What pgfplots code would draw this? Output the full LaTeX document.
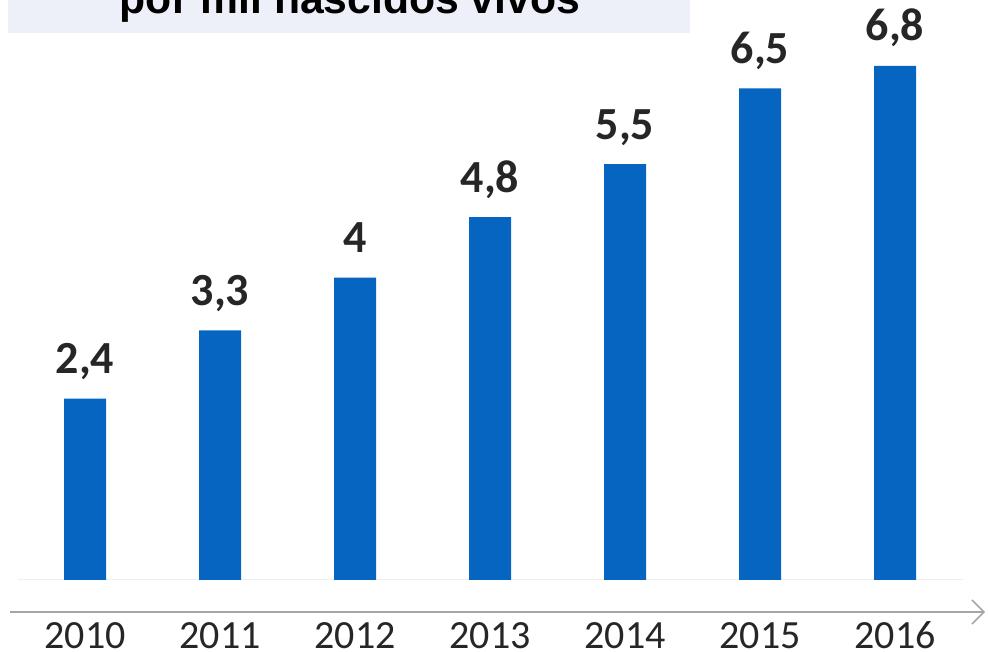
\documentclass[border=0pt]{standalone}
\usepackage{pgfplots}
\pgfplotsset{compat=1.18}
\usepackage{fontspec}
\setmainfont{Carlito}
\newfontfamily\titlefont{Liberation Sans}
\usetikzlibrary{arrows.meta}
\definecolor{barblue}{HTML}{0565C1}
\definecolor{txt}{HTML}{262626}
\definecolor{boxbg}{HTML}{EDF0F8}
\definecolor{axgray}{HTML}{A6A6A6}
\definecolor{basegray}{HTML}{EFEFEF}
\begin{document}
\begin{tikzpicture}
\useasboundingbox (0pt,0pt) rectangle (988pt,652pt);
\clip (0pt,0pt) rectangle (988pt,652pt);
% title box (cut at the top, as in the source)
\fill[boxbg] (8pt,619pt) rectangle (690pt,652pt);
\node[anchor=base, inner sep=0pt, font=\titlefont\bfseries\fontsize{42.7}{44}\selectfont]
  at (350pt,638pt) {por mil nascidos vivos};
\draw[axgray, line width=1.5pt, -{Straight Barb[length=12pt,width=24pt,line width=1.5pt]}]
  (10pt,40pt) -- (985pt,40pt);
\begin{axis}[
    at={(17.5pt,72pt)}, anchor=south west,
    scale only axis,
    width=945pt, height=580pt,
    ybar, bar width=42pt,
    xmin=-0.5, xmax=6.5,
    ymin=0, ymax=7.67,
    hide y axis,
    axis x line*=bottom,
    axis line style={draw=basegray, line width=1pt, -},
    every outer x axis line/.append style={draw=basegray, -},
    xtick=data,
    xticklabels={2010,2011,2012,2013,2014,2015,2016},
    xtick style={draw=none},
    xticklabel style={font=\fontsize{40}{44}\selectfont, text=txt, anchor=base, yshift=-64pt},
    clip=false,
    nodes near coords={\pgfmathprintnumber[use comma,assume math mode=true]{\pgfplotspointmeta}},
    every node near coord/.append style={font=\bfseries\fontsize{46}{50}\selectfont, text=txt, anchor=base, yshift=25pt},
  ]
  \addplot[fill=barblue, draw=none] coordinates {
    (0,2.4) (1,3.3) (2,4.0) (3,4.8) (4,5.5) (5,6.5) (6,6.8)
  };
\end{axis}
\end{tikzpicture}
\end{document}
